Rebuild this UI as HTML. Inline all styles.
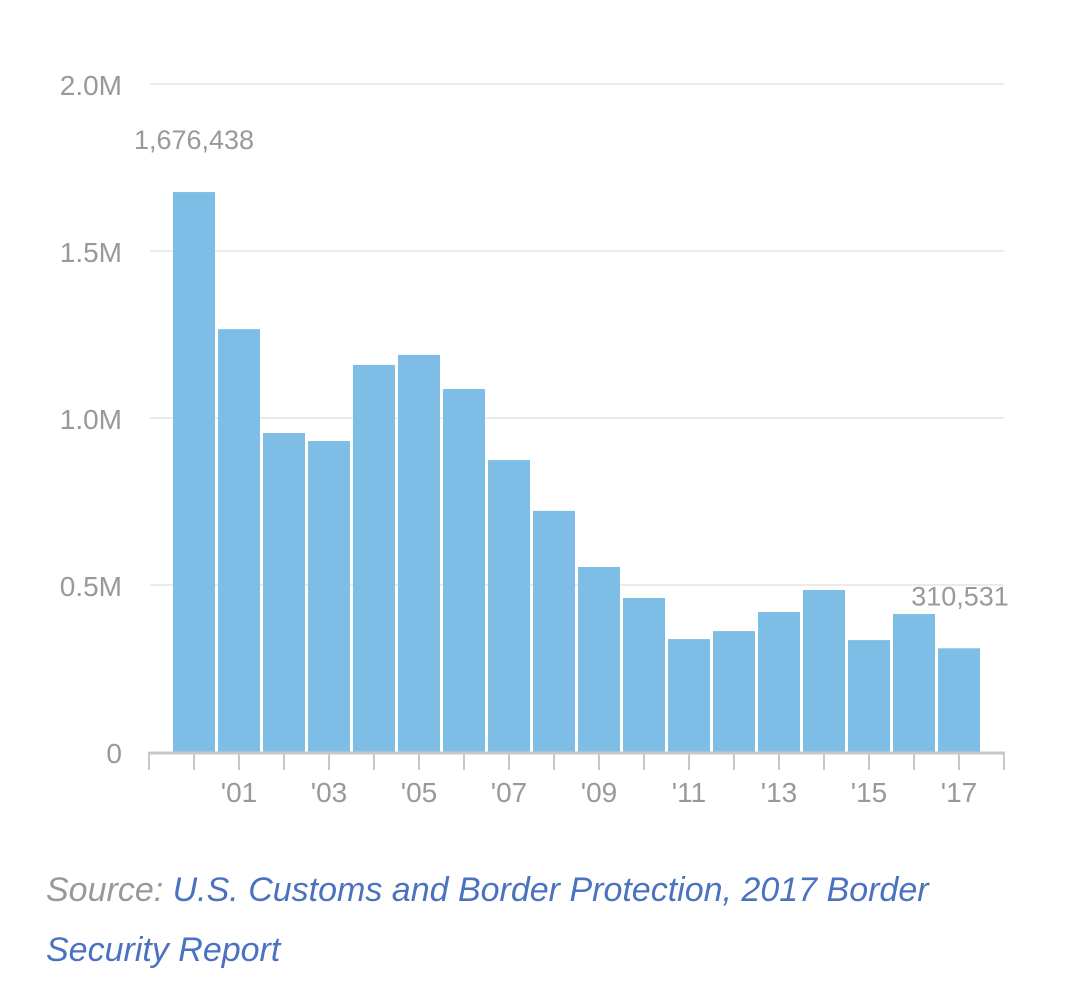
<!DOCTYPE html>
<html><head><meta charset="utf-8"><style>
body{margin:0;background:#fff;width:1080px;height:989px;overflow:hidden;font-family:"Liberation Sans",sans-serif}
svg text{font-family:"Liberation Sans",sans-serif}
.src{position:absolute;left:46px;top:860px;font-size:34px;font-style:italic;line-height:60px;color:#999;width:960px}
.src a{color:#4a72c0;text-decoration:none}
</style></head><body>
<svg id="chart" width="1080" height="860" style="position:absolute;left:0;top:0"></svg>
<div class="src">Source: <a>U.S. Customs and Border Protection, 2017 Border Security Report</a></div>
<script>
const years=[2000,2001,2002,2003,2004,2005,2006,2007,2008,2009,2010,2011,2012,2013,2014,2015,2016,2017];
const values=[1676438,1266000,955000,931000,1159000,1189000,1087000,874000,722000,554000,461000,338000,362000,419000,485000,335000,413000,310531];
const yTicks=[0,500000,1000000,1500000,2000000];
const yTickLabels=["0","0.5M","1.0M","1.5M","2.0M"];
const xLabels=["'01","'03","'05","'07","'09","'11","'13","'15","'17"];
const NS="http://www.w3.org/2000/svg";
const svg=document.getElementById('chart');
const x0=149,step=45,y0=752,yMax=2000000,yTop=84;
const y=v=>y0-(v/yMax)*(y0-yTop);
const xc=i=>x0+step*(i+1);
function mk(t,a){const e=document.createElementNS(NS,t);for(const k in a)e.setAttribute(k,a[k]);svg.appendChild(e);return e;}
yTicks.forEach((v,i)=>{
  if(v>0){const g=mk('line',{x1:150,x2:1004,y1:y(v),y2:y(v),stroke:'#ebebeb','stroke-width':2});
  
  }
  const t=mk('text',{x:122,y:y(v)+11,'text-anchor':'end','font-size':28,fill:'#999'});
  t.textContent=yTickLabels[i];
  
  
});
values.forEach((v,i)=>{
  const r=mk('rect',{x:xc(i)-21,y:y(v),width:42,height:y0-y(v),fill:'#7dbde6'});
  
  
});
const ax=mk('line',{x1:149,x2:1005,y1:y0+1,y2:y0+1,stroke:'#c8c8c8','stroke-width':3});


for(let k=0;k<=years.length+1;k++){
  const tk=mk('line',{x1:x0+k*step,x2:x0+k*step,y1:y0,y2:y0+18,stroke:'#c8c8c8','stroke-width':2});
  
  
}
xLabels.forEach((l,j)=>{
  const t=mk('text',{x:xc(1+2*j),y:802,'text-anchor':'middle','font-size':28,fill:'#999'});
  t.textContent=l;
  
  
});
const a1=mk('text',{x:xc(0),y:y(values[0])-43,'text-anchor':'middle','font-size':27,fill:'#999'});
a1.textContent=values[0].toLocaleString('en-US');


const n=values.length-1;
const a2=mk('text',{x:xc(n)+1,y:y(values[n])-43,'text-anchor':'middle','font-size':27,fill:'#999'});
a2.textContent=values[n].toLocaleString('en-US');


</script>
</body></html>
